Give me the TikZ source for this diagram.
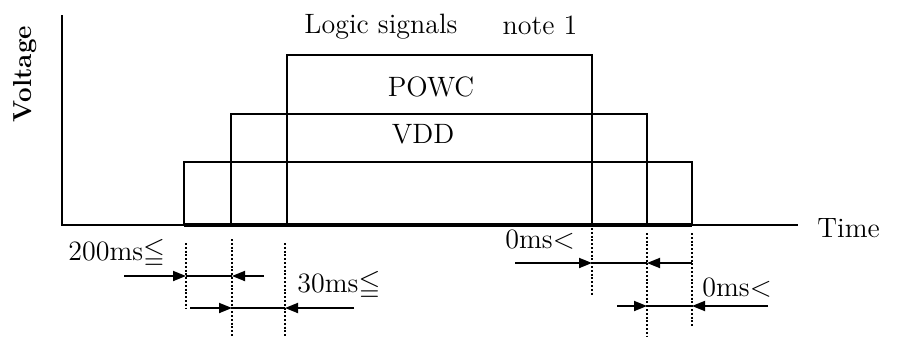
\documentclass[tikz,border=0pt]{standalone}
\usepackage{amssymb}
\usetikzlibrary{arrows.meta}

\tikzset{
  sig/.style={line width=1pt},
  guide/.style={line width=0.9pt, dash pattern=on 1pt off 0.9pt},
  dimarrow/.style={line width=0.9pt, -{Triangle[length=6.5pt,width=5pt]}},
  lbl/.style={font=\fontsize{14}{16}\selectfont, inner sep=0pt},
}

\begin{document}
\begin{tikzpicture}[x=0.5pt,y=-0.5pt]
\useasboundingbox (0,0) rectangle (898,337);

% axes
\coordinate (org) at (62,225);
\coordinate (vtop) at (62,15);
\coordinate (tend) at (798,225);
\draw[line width=0.8pt] (vtop) -- (org) -- (tend);
\node[lbl, font=\fontsize{13}{15}\selectfont\bfseries, rotate=90] (volt) at (25,74) {Voltage};
\node[lbl, anchor=west] (time) at (817,228) {Time};

% signals
\draw[sig] (184,225) |- (692,162) -- (692,225);
\draw[sig] (231,225) |- (647,114) -- (647,225);
\draw[sig] (287,225) |- (592,55) -- (592,225);
\draw[line width=1.6pt] (184,225) -- (692,225);

\node[lbl] (logic) at (381,27) {Logic signals};
\node[lbl] (note) at (540,25) {note 1};
\node[lbl] (powc) at (431,87) {POWC};
\node[lbl] (vdd) at (423,134) {VDD};

% guide lines
\foreach \n/\x/\ya/\yb in {a/186/243/308, b/232/239/337, c/285/243/337,
                           d/592/228/295, e/647/233/337, f/692/233/327}
{
  \coordinate (\n1) at (\x,\ya);
  \coordinate (\n2) at (\x,\yb);
  \draw[guide] (\n1) -- (\n2);
}

% timing arrows
\foreach \y/\xa/\xb/\xc/\xd in {276/124/186/232/264, 308/190/232/285/354,
                               263/515/592/647/692, 306/617/647/692/768}
{
  \coordinate (t\y a) at (\xa,\y);
  \coordinate (t\y b) at (\xb,\y);
  \coordinate (t\y c) at (\xc,\y);
  \coordinate (t\y d) at (\xd,\y);
  \draw[dimarrow] (t\y a) -- (t\y b);
  \draw[dimarrow] (t\y d) -- (t\y c);
  \draw[line width=0.9pt] (t\y b) -- (t\y c);
}

\node[lbl, anchor=west] (on1) at (68,253) {200ms$\leqq$};
\node[lbl, anchor=west] (on2) at (297,285) {30ms$\leqq$};
\node[lbl, anchor=west] (off1) at (505,240) {0ms$<$};
\node[lbl, anchor=west] (off2) at (702,288) {0ms$<$};

\end{tikzpicture}
\end{document}
